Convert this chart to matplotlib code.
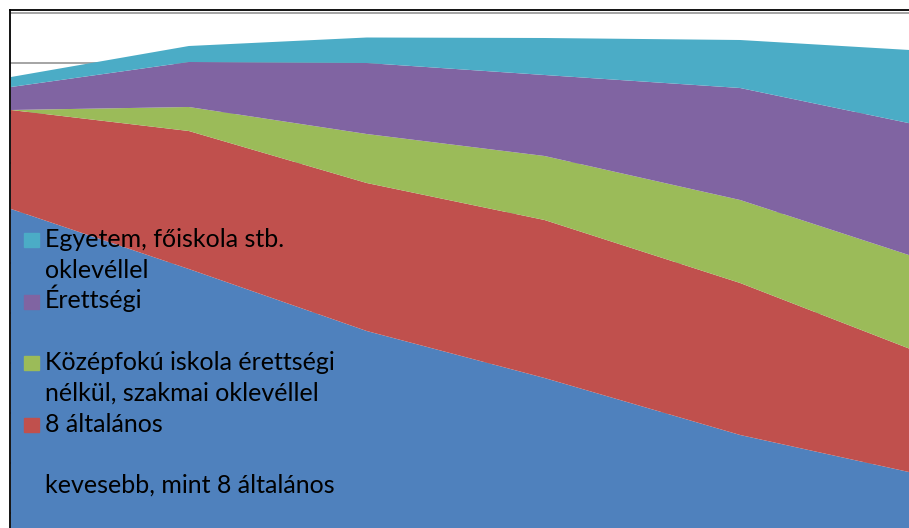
import numpy as np
import matplotlib
matplotlib.use("Agg")
from matplotlib import pyplot as plt
from matplotlib.patches import Rectangle
from matplotlib.lines import Line2D

# census years and population by education level (thousands)
years = [1960, 1970, 1980, 1990, 2001, 2011]
less_than_8 = [7080, 5880, 4640, 3700, 2560, 1780]
general_8 = [1980, 2760, 2960, 3160, 3040, 2440]
vocational = [0, 480, 980, 1280, 1660, 1880]
matura = [460, 900, 1420, 1620, 2240, 2660]
degree = [200, 320, 510, 740, 960, 1490]

labels = [
    ["Egyetem, főiskola stb.", "oklevéllel"],
    ["Érettségi"],
    ["Középfokú iskola érettségi", "nélkül, szakmai oklevéllel"],
    ["8 általános"],
    ["kevesebb, mint 8 általános"],
]
colors = ["#4F81BD", "#C0504D", "#9BBB59", "#8064A2", "#4BACC6"]

W, H = 909, 528
fig = plt.figure(figsize=(W / 100, H / 100), dpi=100)
ax = fig.add_axes([11 / W, 1 - 563 / H, 907 / W, 550 / H])

ax.stackplot(years, less_than_8, general_8, vocational, matura, degree,
             colors=colors, lw=0)
ax.set_xlim(1960, 2011)
ax.set_ylim(0, 11000)
ax.set_yticks(np.arange(0, 11001, 1000))
ax.grid(axis="y", color="#8c8c8c", lw=1.1)
ax.set_axisbelow(True)
for gl in ax.get_ygridlines():
    gl.set_clip_on(False)
ax.tick_params(left=False, bottom=False, labelleft=False, labelbottom=False)
for s in ax.spines.values():
    s.set_visible(False)

# chart border (top and left visible)
fig.add_artist(Line2D([10 / W, 10 / W], [0, 1 - 10 / H], color="black", lw=1.3,
                      transform=fig.transFigure))
fig.add_artist(Line2D([10 / W, 1], [1 - 10 / H, 1 - 10 / H], color="black", lw=1.3,
                      transform=fig.transFigure))

# legend, top entry first (reverse of stacking order)
line_pitch = 30.7
entry_pitch = 61.5
first_base = 247
for i, (lab, col) in enumerate(zip(labels, colors[::-1])):
    base = first_base + i * entry_pitch
    fig.patches.append(Rectangle((24 / W, 1 - base / H), 15 / W, 14 / H,
                                 color=col, transform=fig.transFigure))
    for j, line in enumerate(lab):
        fig.text(45 / W, 1 - (base + j * line_pitch) / H, line,
                 family="Lato", fontsize=18, va="baseline", color="black")

fig.savefig("out.png", dpi=100)
